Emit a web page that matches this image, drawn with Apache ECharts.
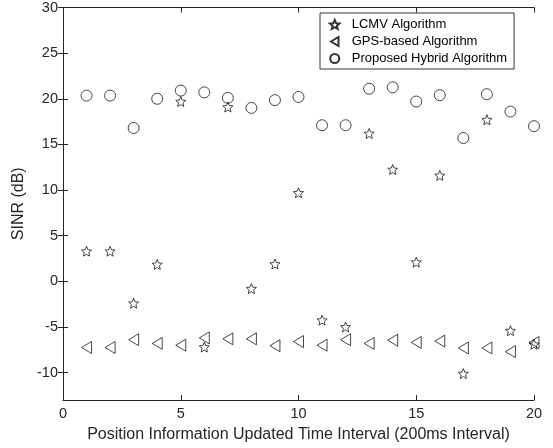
<!DOCTYPE html>
<html><head><meta charset="utf-8">
<script src="https://cdn.jsdelivr.net/npm/echarts@6/dist/echarts.min.js"></script>
<style>html,body{margin:0;padding:0;background:#fff;}#c{width:553px;height:448px;}</style>
</head><body><div id="c"></div>
<script>
const xValues = [1,2,3,4,5,6,7,8,9,10,11,12,13,14,15,16,17,18,19,20];
const lcmv = [3.3,3.3,-2.4,1.85,19.7,-7.2,19.1,-0.8,1.9,9.7,-4.25,-5.0,16.2,12.25,2.1,11.6,-10.1,17.7,-5.4,-6.9];
const gps = [-7.25,-7.25,-6.4,-6.8,-7.0,-6.2,-6.3,-6.3,-7.05,-6.6,-7.0,-6.4,-6.8,-6.45,-6.7,-6.55,-7.3,-7.3,-7.7,-6.7];
const hybrid = [20.35,20.35,16.8,20.0,20.9,20.7,20.1,19.0,19.85,20.2,17.1,17.1,21.1,21.25,19.7,20.4,15.7,20.5,18.6,17.0];
const seriesNames = ['LCMV Algorithm','GPS-based Algorithm','Proposed Hybrid Algorithm'];
const yTicks = [-10,-5,0,5,10,15,20,25,30];
const xTicks = [0,5,10,15,20];

function starPath(){
  let p = '';
  for (let i = 0; i < 10; i++) {
    const r = (i % 2 === 0) ? 10 : 4.5;
    const a = -Math.PI/2 + i*Math.PI/5;
    const x = 10 + r*Math.cos(a), y = 10 + r*Math.sin(a);
    p += (i === 0 ? 'M' : 'L') + x.toFixed(3) + ',' + y.toFixed(3);
  }
  return 'path://' + p + 'Z';
}
const STAR = starPath();
const TRI = 'path://M0,6L10,0L10,12Z';

const axisColor = '#262626';
const font = 'Liberation Sans, Arial, Helvetica, sans-serif';
const pair = arr => arr.map((v,i)=>[xValues[i], v]);
const hollow = {color: 'rgba(255,255,255,0)', borderColor: '#000', borderWidth: 0.9};

const chart = echarts.init(document.getElementById('c'), null, {renderer: 'canvas'});
const yCommon = {
  type: 'value', min: -13, max: 30,
  splitLine: {show: false},
  axisLine: {show: true, lineStyle: {color: axisColor, width: 1}},
  axisTick: {show: true, inside: true, length: 5, customValues: yTicks, lineStyle: {color: axisColor}},
};
const xCommon = {
  type: 'value', min: 0, max: 20, interval: 5,
  splitLine: {show: false},
  axisLine: {show: true, onZero: false, lineStyle: {color: axisColor, width: 1}},
  axisTick: {show: true, inside: true, length: 5, customValues: xTicks, lineStyle: {color: axisColor}},
};
chart.setOption({
  animation: false,
  backgroundColor: '#fff',
  grid: {left: 63, right: 19, top: 5, bottom: 47, containLabel: false},
  legend: {
    orient: 'vertical', left: 320, top: 13,
    backgroundColor: '#fff', borderColor: '#000', borderWidth: 0.8,
    padding: [5, 7, 4, 9], itemGap: 4, itemWidth: 24, itemHeight: 9,
    symbolKeepAspect: true,
    textStyle: {fontFamily: font, fontSize: 13, color: '#000'},
    data: seriesNames
  },
  xAxis: [
    Object.assign({}, xCommon, {
      position: 'bottom',
      name: 'Position Information Updated Time Interval (200ms Interval)',
      nameLocation: 'middle', nameGap: 27,
      nameTextStyle: {fontFamily: font, fontSize: 16, color: axisColor},
      axisLabel: {customValues: xTicks, fontFamily: font, fontSize: 14.5, color: axisColor, margin: 6}
    }),
    Object.assign({}, xCommon, {position: 'top', axisLabel: {show: false}})
  ],
  yAxis: [
    Object.assign({}, yCommon, {
      position: 'left',
      name: 'SINR (dB)', nameLocation: 'middle', nameGap: 29, nameRotate: 90,
      nameTextStyle: {fontFamily: font, fontSize: 16, color: axisColor},
      axisLabel: {customValues: yTicks, fontFamily: font, fontSize: 14.5, color: axisColor, margin: 5}
    }),
    Object.assign({}, yCommon, {position: 'right', axisLabel: {show: false}})
  ],
  series: [
    {name: seriesNames[0], type: 'scatter', data: pair(lcmv), symbol: STAR, symbolSize: 10, itemStyle: hollow, z: 3},
    {name: seriesNames[1], type: 'scatter', data: pair(gps), symbol: TRI, symbolSize: [10, 12], itemStyle: hollow, z: 2},
    {name: seriesNames[2], type: 'scatter', data: pair(hybrid), symbol: 'circle', symbolSize: 11, itemStyle: hollow, z: 1}
  ]
});
</script></body></html>
